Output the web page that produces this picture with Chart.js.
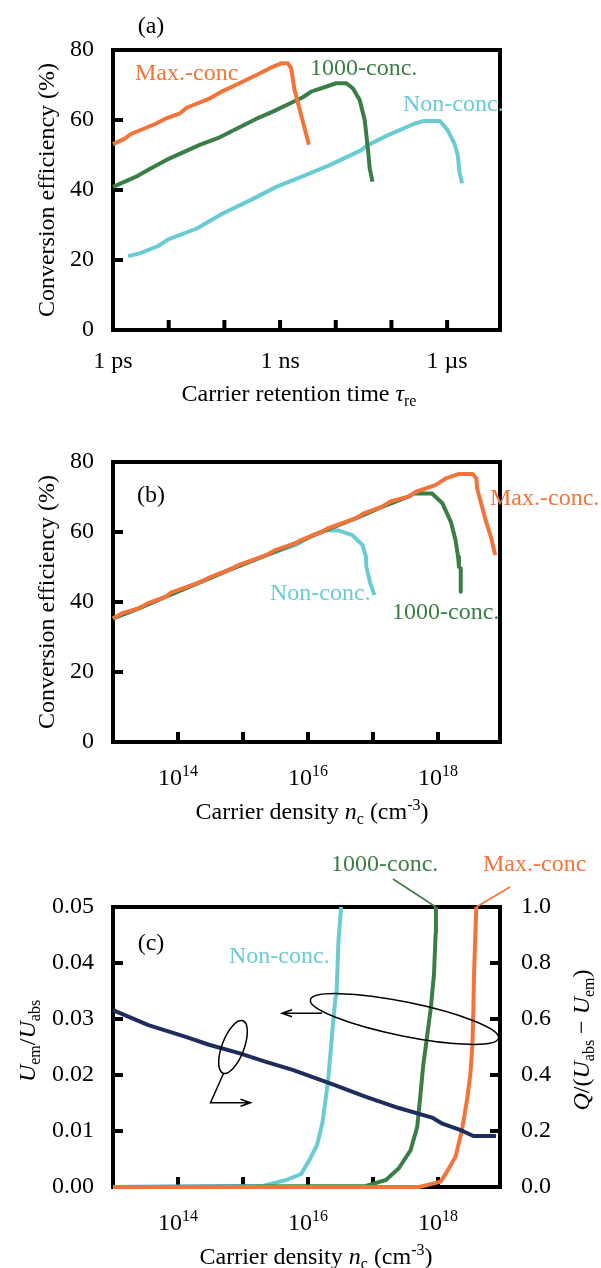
<!DOCTYPE html>
<html><head><meta charset="utf-8">
<script src="https://cdn.jsdelivr.net/npm/chart.js@4.4.1/dist/chart.umd.min.js"></script>
<style>
html,body{margin:0;padding:0;background:#fff;width:601px;height:1268px;overflow:hidden}
.c{position:absolute;left:0;width:601px}
</style></head><body>
<div class="c" style="top:0;height:420px"><canvas id="ca"></canvas></div>
<div class="c" style="top:420px;height:420px"><canvas id="cb"></canvas></div>
<div class="c" style="top:840px;height:428px"><canvas id="cc"></canvas></div>
<script>
// ---------- DATA ----------
// Panel (a): conversion efficiency (%) vs carrier retention time (s)
const aMaxTau = [1e-12, 1.6e-12, 2.1e-12, 6.0e-12, 8.5e-12, 1.6e-11, 2.1e-11, 5.5e-11, 8.9e-11, 1.6e-10, 4.3e-10, 7.4e-10, 1.05e-9, 1.38e-9, 1.58e-9, 1.82e-9, 3.3e-9];
const aMaxEff = [53.1, 54.6, 56.0, 59.0, 60.3, 61.9, 63.5, 66.2, 68.1, 70.0, 73.3, 75.2, 76.2, 76.2, 74.8, 68.6, 52.9];
const aKTau = [1e-12, 2.6e-12, 4.0e-12, 9.1e-12, 3.6e-11, 7.6e-11, 3.7e-10, 7.4e-10, 2.57e-9, 3.63e-9, 1.02e-8, 1.55e-8, 2.04e-8, 2.69e-8, 3.31e-8, 3.8e-8, 4.07e-8, 4.57e-8];
const aKEff = [40.9, 43.8, 45.5, 48.6, 52.9, 54.8, 60.3, 62.4, 66.5, 68.1, 70.5, 70.5, 69.0, 65.7, 60.0, 51.4, 46.2, 42.4];
const aNonTau = [1.86e-12, 3.0e-12, 6.5e-12, 9.8e-12, 3.2e-11, 9.3e-11, 3.2e-10, 8.5e-10, 2.95e-9, 7.76e-9, 2.88e-8, 3.55e-8, 8.71e-8, 2.63e-7, 3.72e-7, 7.41e-7, 1.02e-6, 1.35e-6, 1.55e-6, 1.66e-6, 1.86e-6];
const aNonEff = [21.1, 21.9, 24.0, 25.9, 29.0, 33.3, 37.4, 40.9, 44.3, 47.1, 51.4, 52.6, 55.7, 59.0, 59.7, 59.7, 57.1, 53.3, 50.0, 45.2, 41.9];

// Panel (b): conversion efficiency (%) vs carrier density (cm^-3)
const bMaxN = [1e13, 1.38e13, 2.5e13, 3.4e13, 6.5e13, 7.8e13, 2.3e14, 3.2e14, 6.0e14, 8.7e14, 2.3e15, 3.2e15, 6.5e15, 7.8e15, 1.66e16, 2.0e16, 5.4e16, 7.2e16, 1.38e17, 1.86e17, 3.5e17, 4.6e17, 9.1e17, 1.32e18, 2.1e18, 3.4e18, 3.9e18, 4.0e18, 5.4e18, 6.5e18, 7.6e18];
const bMaxEff = [35.3, 36.8, 38.2, 39.6, 41.5, 42.7, 45.8, 47.2, 49.1, 50.6, 53.4, 54.9, 56.8, 57.7, 60.1, 61.0, 63.9, 65.3, 67.2, 68.7, 70.1, 71.5, 73.4, 75.3, 76.6, 76.6, 75.3, 72.5, 63.4, 58.7, 53.4];
const bKN = [1e13, 2.5e13, 6.5e13, 2.3e14, 6.0e14, 2.3e15, 6.5e15, 1.66e16, 5.4e16, 1.38e17, 3.5e17, 4.3e17, 8.1e17, 1.17e18, 1.58e18, 1.86e18, 2.04e18, 2.1e18, 2.24e18, 2.24e18];
const bKEff = [35.3, 38.2, 41.5, 45.8, 49.1, 53.4, 56.8, 60.1, 63.9, 67.2, 70.1, 71.0, 71.0, 68.2, 62.9, 57.7, 52.9, 50.1, 49.6, 42.9];
const bNonN = [1e13, 2.5e13, 6.5e13, 2.3e14, 6.0e14, 2.3e15, 6.5e15, 1.17e16, 1.86e16, 3.0e16, 4.8e16, 6.9e16, 7.8e16, 7.9e16, 9.1e16, 1.05e17];
const bNonEff = [35.3, 38.2, 41.5, 45.8, 49.1, 53.4, 56.3, 59.1, 60.4, 60.4, 59.1, 56.3, 52.9, 50.1, 45.3, 42.0];

// Panel (c): Uem/Uabs (left) and Q/(Uabs-Uem) (right) vs carrier density
const cNavyN = [1e13, 3.5e13, 1.32e14, 3.0e14, 8.7e14, 2.2e15, 5.8e15, 2.3e16, 7.8e16, 2.5e17, 8.1e17, 1.17e18, 2.3e18, 3.5e18, 7.8e18];
const cNavyRatio = [0.0316, 0.0289, 0.0268, 0.0254, 0.0239, 0.0224, 0.0209, 0.0184, 0.0161, 0.0141, 0.0124, 0.0113, 0.0101, 0.0091, 0.0091];
const cNonN = [1e13, 2.0e15, 4.6e15, 7.8e15, 1.05e16, 1.38e16, 1.66e16, 1.86e16, 2.04e16, 2.24e16, 2.4e16, 2.63e16, 2.75e16, 2.95e16, 3.24e16];
const cNonQ = [0, 0.004, 0.025, 0.046, 0.096, 0.15, 0.227, 0.31, 0.382, 0.489, 0.573, 0.668, 0.69, 0.882, 1.0];
const cKN = [1e13, 7.8e16, 1.58e17, 2.5e17, 3.8e17, 4.8e17, 5.4e17, 5.9e17, 6.9e17, 7.8e17, 8.7e17, 9.2e17, 9.3e17];
const cKQ = [0, 0.004, 0.025, 0.067, 0.132, 0.215, 0.335, 0.43, 0.549, 0.644, 0.763, 0.905, 1.0];
const cMaxN = [1e13, 5.1e17, 8.1e17, 1.1e18, 1.38e18, 1.86e18, 2.34e18, 2.8e18, 3.16e18, 3.39e18, 3.51e18, 3.59e18, 3.76e18, 3.89e18];
const cMaxQ = [0, 0, 0.011, 0.019, 0.055, 0.108, 0.204, 0.311, 0.406, 0.513, 0.644, 0.763, 0.905, 1.0];

// Ticks
const tauTicks = [1e-12, 1e-11, 1e-10, 1e-9, 1e-8, 1e-7, 1e-6];
const tauLabels = ['1 ps', '', '', '1 ns', '', '', '1 \u00b5s'];
const effTicks = [0, 20, 40, 60, 80];
const effLabels = ['0', '20', '40', '60', '80'];
const nTicks = [1e14, 1e15, 1e16, 1e17, 1e18];
const nLabelExp = ['14', '', '16', '', '18'];
const ratioTicks = [0, 0.01, 0.02, 0.03, 0.04, 0.05];
const ratioLabels = ['0.00', '0.01', '0.02', '0.03', '0.04', '0.05'];
const qTicks = [0, 0.2, 0.4, 0.6, 0.8, 1.0];
const qLabels = ['0.0', '0.2', '0.4', '0.6', '0.8', '1.0'];

// ---------- STYLE ----------
const FAM = '"Liberation Serif", "Times New Roman", serif';
const COL = {max: '#F3743A', k: '#3B7D46', non: '#6ACBD5', navy: '#1F2D5B'};

function setFont(ctx, size, italic) { ctx.font = (italic ? 'italic ' : '') + size + 'px ' + FAM; }
function rich(ctx, parts, x, y, align, rot, color) {
  ctx.save();
  ctx.translate(x, y);
  if (rot) ctx.rotate(rot);
  ctx.fillStyle = color || '#000';
  ctx.textBaseline = 'alphabetic';
  ctx.textAlign = 'left';
  let w = 0;
  for (const p of parts) { setFont(ctx, p.s || 24, p.i); w += ctx.measureText(p.t).width; }
  let cx = align === 'left' ? 0 : (align === 'right' ? -w : -w / 2);
  for (const p of parts) {
    setFont(ctx, p.s || 24, p.i);
    ctx.fillText(p.t, cx, 8 + (p.dy || 0));
    cx += ctx.measureText(p.t).width;
  }
  ctx.restore();
}

const SUB = {s: 16, dy: 5};
const SUP = {s: 16, dy: -9};
const densTitle = [{t: 'Carrier density '}, {t: 'n', i: 1}, Object.assign({t: 'c'}, SUB), {t: ' (cm'}, Object.assign({t: '-3'}, SUP), {t: ')'}];
const effTitle = [{t: 'Conversion efficiency (%)'}];

const TEXTS = {
  ca: [
    {p: [{t: '(a)'}], x: 151, y: 25, al: 'center'},
    {p: [{t: 'Max.-conc'}], x: 135, y: 72, al: 'left', c: COL.max},
    {p: [{t: '1000-conc.'}], x: 310, y: 67, al: 'left', c: COL.k},
    {p: [{t: 'Non-conc.'}], x: 403, y: 103, al: 'left', c: COL.non},
    {p: effTitle, x: 46, y: 190, al: 'center', r: -Math.PI / 2},
    {p: [{t: 'Carrier retention time '}, {t: '\u03c4', i: 1}, Object.assign({t: 're'}, SUB)], x: 299, y: 393, al: 'center'}
  ],
  cb: [
    {p: [{t: '(b)'}], x: 151, y: 74, al: 'center'},
    {p: [{t: 'Max.-conc.'}], x: 490, y: 77, al: 'left', c: COL.max},
    {p: [{t: 'Non-conc.'}], x: 270, y: 172, al: 'left', c: COL.non},
    {p: [{t: '1000-conc.'}], x: 392, y: 191, al: 'left', c: COL.k},
    {p: effTitle, x: 46, y: 182, al: 'center', r: -Math.PI / 2},
    {p: densTitle, x: 312, y: 391, al: 'center'}
  ],
  cc: [
    {p: [{t: '(c)'}], x: 151, y: 102, al: 'center'},
    {p: [{t: 'Non-conc.'}], x: 229, y: 115, al: 'left', c: COL.non},
    {p: [{t: '1000-conc.'}], x: 331, y: 23, al: 'left', c: COL.k},
    {p: [{t: 'Max.-conc'}], x: 483, y: 23, al: 'left', c: COL.max},
    {p: [{t: 'U', i: 1}, Object.assign({t: 'em'}, SUB), {t: '/'}, {t: 'U', i: 1}, Object.assign({t: 'abs'}, SUB)], x: 27, y: 201, al: 'center', r: -Math.PI / 2},
    {p: [{t: 'Q', i: 1}, {t: '/('}, {t: 'U', i: 1}, Object.assign({t: 'abs'}, SUB), {t: ' \u2212 '}, {t: 'U', i: 1}, Object.assign({t: 'em'}, SUB), {t: ')'}], x: 581, y: 200, al: 'center', r: -Math.PI / 2},
    {p: densTitle, x: 316, y: 416, al: 'center'}
  ]
};
const XSUP = {cb: 357, cc: 382};

const decor = {
  id: 'decor',
  beforeDatasetsDraw(chart) {
    const ctx = chart.ctx, ar = chart.chartArea;
    ctx.save();
    ctx.strokeStyle = '#000';
    ctx.lineWidth = 4;
    ctx.strokeRect(ar.left, ar.top, ar.right - ar.left, ar.bottom - ar.top);
    ctx.lineCap = 'butt';
    for (const id of Object.keys(chart.scales)) {
      const s = chart.scales[id];
      for (const t of s.ticks) {
        const p = s.getPixelForValue(t.value);
        ctx.beginPath();
        if (s.isHorizontal()) {
          if (p < ar.left + 3 || p > ar.right - 3) continue;
          ctx.moveTo(p, ar.bottom); ctx.lineTo(p, ar.bottom - 10);
        } else {
          if (p < ar.top + 3 || p > ar.bottom - 3) continue;
          if (s.position === 'right') { ctx.moveTo(ar.right, p); ctx.lineTo(ar.right - 10, p); }
          else { ctx.moveTo(ar.left, p); ctx.lineTo(ar.left + 10, p); }
        }
        ctx.stroke();
      }
    }
    ctx.restore();
  },
  afterDraw(chart) {
    const ctx = chart.ctx, id = chart.canvas.id;
    for (const it of TEXTS[id]) rich(ctx, it.p, it.x, it.y, it.al, it.r, it.c);
    if (XSUP[id]) {
      const s = chart.scales.x;
      nTicks.forEach((v, i) => {
        if (!nLabelExp[i]) return;
        rich(ctx, [{t: '10'}, Object.assign({t: nLabelExp[i]}, SUP)], s.getPixelForValue(v), XSUP[id], 'center');
      });
    }
    if (id === 'cc') {
      const sx = chart.scales.x, sy = chart.scales.y2;
      ctx.save();
      ctx.lineWidth = 1.6;
      ctx.strokeStyle = COL.k;
      ctx.beginPath(); ctx.moveTo(393, 39);
      ctx.lineTo(sx.getPixelForValue(cKN[cKN.length - 1]), sy.getPixelForValue(cKQ[cKQ.length - 1])); ctx.stroke();
      ctx.strokeStyle = COL.max;
      ctx.beginPath(); ctx.moveTo(510, 47);
      ctx.lineTo(sx.getPixelForValue(cMaxN[cMaxN.length - 1]), sy.getPixelForValue(cMaxQ[cMaxQ.length - 1])); ctx.stroke();
      ctx.strokeStyle = '#000';
      ctx.lineWidth = 1.5;
      ctx.beginPath(); ctx.ellipse(404.5, 179, 96, 17, 11.5 * Math.PI / 180, 0, 2 * Math.PI); ctx.stroke();
      ctx.beginPath(); ctx.moveTo(322, 173.3); ctx.lineTo(282, 173.3);
      ctx.moveTo(292, 169.8); ctx.lineTo(282, 173.3); ctx.lineTo(292, 176.8); ctx.stroke();
      ctx.beginPath(); ctx.ellipse(233, 207, 11, 28, 20.8 * Math.PI / 180, 0, 2 * Math.PI); ctx.stroke();
      ctx.beginPath(); ctx.moveTo(223.5, 233.5); ctx.lineTo(210.5, 262.7); ctx.lineTo(250.5, 262.7);
      ctx.moveTo(240.5, 259.2); ctx.lineTo(250.5, 262.7); ctx.lineTo(240.5, 266.2); ctx.stroke();
      ctx.restore();
    }
  }
};

function ds(xs, ys, color, yAxisID) {
  return {
    data: xs.map((v, i) => ({x: v, y: ys[i]})),
    borderColor: color, borderWidth: 4, pointRadius: 0, tension: 0, fill: false,
    borderJoinStyle: 'round', clip: 3, yAxisID: yAxisID || 'y'
  };
}
function logX(min, max, ticks, labels, height, show) {
  return {
    type: 'logarithmic', position: 'bottom', min, max,
    afterBuildTicks: s => { s.ticks = ticks.map(v => ({value: v})); },
    afterFit: s => { s.height = height; },
    grid: {display: false, drawTicks: false, tickLength: 0}, border: {display: false},
    ticks: {display: show, autoSkip: false, maxRotation: 0, minRotation: 0, padding: 17, color: '#000',
      font: {family: FAM, size: 24}, callback: (v, i) => labels[i]}
  };
}
function linY(min, max, ticks, labels, pos, width, pad) {
  return {
    type: 'linear', position: pos, min, max,
    afterBuildTicks: s => { s.ticks = ticks.map(v => ({value: v})); },
    afterFit: s => { s.width = width; },
    grid: {display: false, drawTicks: false, tickLength: 0}, border: {display: false},
    ticks: {padding: pad, color: '#000', font: {family: FAM, size: 24}, callback: (v, i) => labels[i]}
  };
}
function base(extra) {
  return Object.assign({
    responsive: true, maintainAspectRatio: false, animation: false, devicePixelRatio: 1, events: [],
    plugins: {legend: {display: false}, tooltip: {enabled: false}}
  }, extra);
}

new Chart(document.getElementById('ca'), {
  type: 'line',
  data: {datasets: [ds(aMaxTau, aMaxEff, COL.max), ds(aKTau, aKEff, COL.k), ds(aNonTau, aNonEff, COL.non)]},
  options: base({
    layout: {padding: {top: 50, right: 101, left: 0, bottom: 0}},
    scales: {x: logX(1e-12, 8.9e-6, tauTicks, tauLabels, 90, true), y: linY(0, 80, effTicks, effLabels, 'left', 113, 19)}
  }),
  plugins: [decor]
});

new Chart(document.getElementById('cb'), {
  type: 'line',
  data: {datasets: [ds(bMaxN, bMaxEff, COL.max), ds(bKN, bKEff, COL.k), ds(bNonN, bNonEff, COL.non)]},
  options: base({
    layout: {padding: {top: 42, right: 101, left: 0, bottom: 0}},
    scales: {x: logX(1e13, 9e18, nTicks, nLabelExp, 98, false), y: linY(0, 80, effTicks, effLabels, 'left', 113, 19)}
  }),
  plugins: [decor]
});

new Chart(document.getElementById('cc'), {
  type: 'line',
  data: {datasets: [
    ds(cNavyN, cNavyRatio, COL.navy, 'y'),
    ds(cMaxN, cMaxQ, COL.max, 'y2'),
    ds(cKN, cKQ, COL.k, 'y2'),
    ds(cNonN, cNonQ, COL.non, 'y2')
  ]},
  options: base({
    layout: {padding: {top: 67, right: 0, left: 0, bottom: 0}},
    scales: {
      x: logX(1e13, 9e18, nTicks, nLabelExp, 81, false),
      y: linY(0, 0.05, ratioTicks, ratioLabels, 'left', 113, 19),
      y2: linY(0, 1.0, qTicks, qLabels, 'right', 101, 21)
    }
  }),
  plugins: [decor]
});
</script>
</body></html>
